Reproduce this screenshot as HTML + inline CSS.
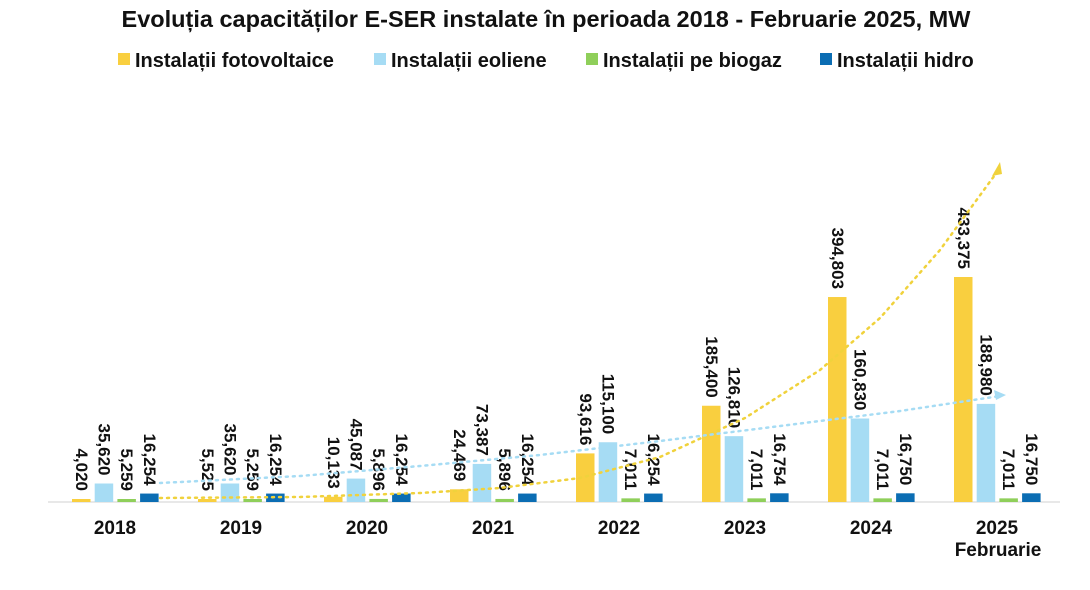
<!DOCTYPE html>
<html><head><meta charset="utf-8"><style>
body{margin:0;background:#fff;}
svg text{font-family:"Liberation Sans",Arial,sans-serif;font-weight:bold;fill:#111;}
</style></head><body>
<svg width="1090" height="585" viewBox="0 0 1090 585" xmlns="http://www.w3.org/2000/svg">
<text x="546" y="27" text-anchor="middle" font-size="23.5">Evoluția capacităților E-SER instalate în perioada 2018 - Februarie 2025, MW</text>
<g font-size="20">
<rect x="118" y="53" width="12" height="12" fill="#f9cf3f"/><text x="135" y="67">Instalații fotovoltaice</text>
<rect x="374" y="53" width="12" height="12" fill="#a6dcf4"/><text x="391" y="67">Instalații eoliene</text>
<rect x="586" y="53" width="12" height="12" fill="#8fcf5a"/><text x="603" y="67">Instalații pe biogaz</text>
<rect x="820" y="53" width="12" height="12" fill="#0b6db3"/><text x="837" y="67">Instalații hidro</text>
</g>
<line x1="48" y1="502" x2="1060" y2="502" stroke="#d0d0d0" stroke-width="1"/>
<g id="bars"></g>
<g id="labels"></g>
<polyline points="160,498 300,497 420,493 500,488 580,478 660,457 745,418 820,370 880,318 940,250 1000,168" fill="none" stroke="#f0d23c" stroke-width="2.5" stroke-dasharray="2,5" stroke-linecap="round"/>
<polygon points="1000,162 992,176 1002,174" fill="#f0d23c"/>
<polyline points="160,483 300,476 420,466 540,455 660,441 780,426 900,411 1000,396" fill="none" stroke="#a6dcf4" stroke-width="2.5" stroke-dasharray="2,5" stroke-linecap="round"/>
<polygon points="1006,395 994,390 996,400" fill="#a6dcf4"/>
</svg>
<script>
(function(){
var data=[[4020,35620,5259,16254],[5525,35620,5259,16254],[10133,45087,5896,16254],[24469,73387,5896,16254],[93616,115100,7011,16254],[185400,126810,7011,16754],[394803,160830,7011,16750],[433375,188980,7011,16750]];
var years=["2018","2019","2020","2021","2022","2023","2024","2025"];
var cols=["#f9cf3f","#a6dcf4","#8fcf5a","#0b6db3"];
var ns="http://www.w3.org/2000/svg",b=document.getElementById("bars"),l=document.getElementById("labels");
var k=225/433375;
function fmt(n){return n.toString().replace(/\B(?=(\d{3})+(?!\d))/g,",");}
for(var i=0;i<8;i++){var c=115+i*126;
for(var j=0;j<4;j++){var x=c-43+j*22.7,h=Math.max(data[i][j]*k,3),yt=502-h;
var r=document.createElementNS(ns,"rect");r.setAttribute("x",x);r.setAttribute("y",yt);r.setAttribute("width",18.5);r.setAttribute("height",h);r.setAttribute("fill",cols[j]);b.appendChild(r);
var t=document.createElementNS(ns,"text");var cx=x+9.25,cy=yt-8;t.setAttribute("x",cx);t.setAttribute("y",cy);t.setAttribute("font-size","17");t.setAttribute("text-anchor","end");t.setAttribute("dominant-baseline","central");t.setAttribute("transform","rotate(90 "+cx+" "+cy+")");t.textContent=fmt(data[i][j]);l.appendChild(t);}
var y=document.createElementNS(ns,"text");y.setAttribute("x",c);y.setAttribute("y",534);y.setAttribute("font-size","19");y.setAttribute("text-anchor","middle");y.textContent=years[i];l.appendChild(y);}
var f=document.createElementNS(ns,"text");f.setAttribute("x",998);f.setAttribute("y",556);f.setAttribute("font-size","19");f.setAttribute("text-anchor","middle");f.textContent="Februarie";l.appendChild(f);
})();
</script>
</body></html>
